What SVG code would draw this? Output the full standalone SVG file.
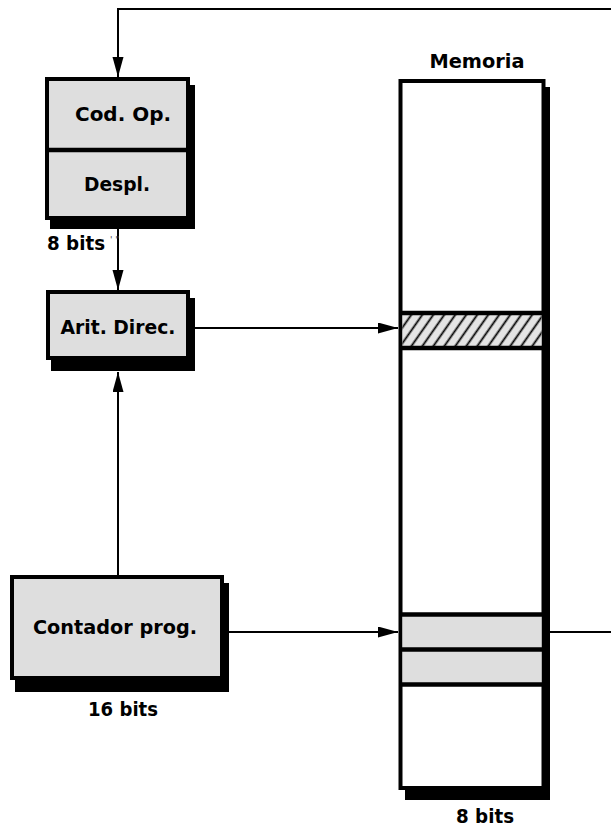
<svg xmlns="http://www.w3.org/2000/svg" width="611" height="827" viewBox="0 0 611 827">
  <style>
    .box{fill:#dedede;stroke:#000;stroke-width:4}
    .shadow{fill:#000}
    .mem{fill:#fff;stroke:#000;stroke-width:4}
    .sep{stroke:#000;stroke-width:4.5;fill:none}
    .conn{stroke:#000;stroke-width:2;fill:none}
    .lbl{font-family:"DejaVu Sans","Liberation Sans",sans-serif;font-weight:bold;font-size:19px;fill:#000}
    .mid{text-anchor:middle}
  </style>
  <defs>
    <marker id="arr" markerUnits="userSpaceOnUse" markerWidth="21" markerHeight="12" refX="20" refY="5.5" orient="auto">
      <path d="M0,0 L20,5.5 L0,11 z" fill="#000"/>
    </marker>
    <pattern id="hatch" patternUnits="userSpaceOnUse" width="9" height="20" patternTransform="rotate(35)">
      <rect width="9" height="20" fill="#e4e4e4"/>
      <line x1="4.5" y1="0" x2="4.5" y2="20" stroke="#000" stroke-width="1.8"/>
    </pattern>
  </defs>

  <rect width="611" height="827" fill="#fff"/>

  <g id="connectors">
    <path class="conn" d="M550 632 H614 V9 H118 V77" marker-end="url(#arr)"/>
    <path class="conn" d="M118 229 V290" marker-end="url(#arr)"/>
    <path class="conn" d="M195 328 H398" marker-end="url(#arr)"/>
    <path class="conn" d="M118 575 V372" marker-end="url(#arr)"/>
    <path class="conn" d="M229 632 H398" marker-end="url(#arr)"/>
  </g>

  <g id="registro-instruccion">
    <rect class="shadow" x="50" y="85" width="145" height="144"/>
    <rect class="box" x="47" y="79" width="141" height="139"/>
    <line class="sep" x1="47" y1="150" x2="188" y2="150"/>
    <text class="lbl mid" x="123" y="121" textLength="96" lengthAdjust="spacingAndGlyphs">Cod. Op.</text>
    <text class="lbl mid" x="117" y="191" textLength="66" lengthAdjust="spacingAndGlyphs">Despl.</text>
    <text class="lbl" x="47" y="250" textLength="58" lengthAdjust="spacingAndGlyphs">8 bits</text>
    <text x="110" y="243" font-family="DejaVu Sans, sans-serif" font-size="9" fill="#444">' "</text>
  </g>

  <g id="arit-direc">
    <rect class="shadow" x="51" y="298" width="144" height="73"/>
    <rect class="box" x="48" y="292" width="140" height="66"/>
    <text class="lbl mid" x="118" y="334" textLength="115" lengthAdjust="spacingAndGlyphs">Arit. Direc.</text>
  </g>

  <g id="contador-prog">
    <rect class="shadow" x="15" y="583" width="214" height="109"/>
    <rect class="box" x="12" y="577" width="210" height="101"/>
    <text class="lbl mid" x="115" y="634" textLength="164" lengthAdjust="spacingAndGlyphs">Contador prog.</text>
    <text class="lbl mid" x="123" y="716" textLength="70" lengthAdjust="spacingAndGlyphs">16 bits</text>
  </g>

  <g id="memoria">
    <text class="lbl mid" x="477" y="68" textLength="95" lengthAdjust="spacingAndGlyphs">Memoria</text>
    <rect class="shadow" x="405" y="87" width="145" height="713"/>
    <rect class="mem" x="400.5" y="81" width="143" height="707"/>
    <rect x="402.5" y="313" width="139" height="35" fill="url(#hatch)"/>
    <line class="sep" x1="400.5" y1="313" x2="543.5" y2="313"/>
    <line class="sep" x1="400.5" y1="348" x2="543.5" y2="348"/>
    <rect x="402.5" y="614" width="139" height="70" fill="#dedede"/>
    <line class="sep" x1="400.5" y1="614.5" x2="543.5" y2="614.5"/>
    <line class="sep" x1="400.5" y1="649.5" x2="543.5" y2="649.5"/>
    <line class="sep" x1="400.5" y1="684.5" x2="543.5" y2="684.5"/>
    <text class="lbl mid" x="485" y="823" textLength="58" lengthAdjust="spacingAndGlyphs">8 bits</text>
  </g>
</svg>
